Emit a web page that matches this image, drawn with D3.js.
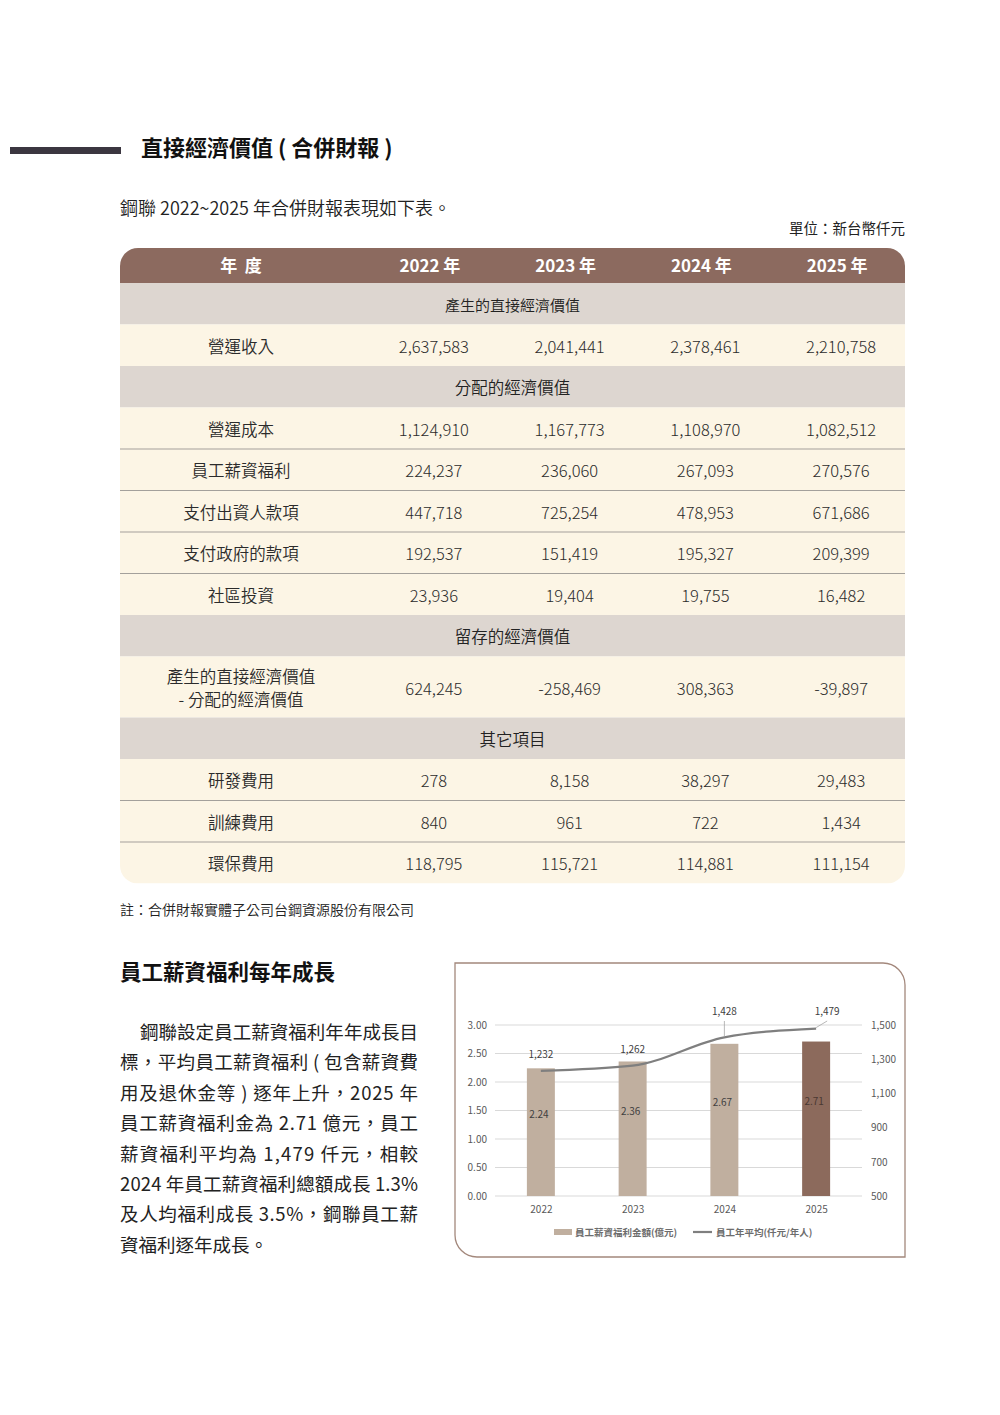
<!DOCTYPE html>
<html lang="zh-Hant">
<head>
<meta charset="utf-8">
<script src="https://cdn.jsdelivr.net/npm/d3@7"></script>
<style>
  html, body { margin: 0; padding: 0; background: #fff; }
  svg { display: block; }
  text { font-family: "Noto Sans CJK TC", "Noto Sans", sans-serif; }
</style>
</head>
<body>
<svg id="page" width="1000" height="1415"></svg>
<script>
// ---- table values (NT$ thousand) ----
const years = ["2022", "2023", "2024", "2025"];
const opRevenue = [2637583, 2041441, 2378461, 2210758];
const opCost = [1124910, 1167773, 1108970, 1082512];
const payroll = [224237, 236060, 267093, 270576];
const toInvestors = [447718, 725254, 478953, 671686];
const toGovernment = [192537, 151419, 195327, 209399];
const community = [23936, 19404, 19755, 16482];
const retained = [624245, -258469, 308363, -39897];
const rnd = [278, 8158, 38297, 29483];
const training = [840, 961, 722, 1434];
const envCost = [118795, 115721, 114881, 111154];

// ---- chart values ----
const payTotal = [2.24, 2.36, 2.67, 2.71]; // 億元
const payAvg = [1232, 1262, 1428, 1479]; // 仟元/年人
const leftTicks = [0, 0.5, 1, 1.5, 2, 2.5, 3];
const rightTicks = [500, 700, 900, 1100, 1300, 1500];

const paragraph = [
  "鋼聯設定員工薪資福利年年成長目",
  "標，平均員工薪資福利 ( 包含薪資費",
  "用及退休金等 ) 逐年上升，2025 年",
  "員工薪資福利金為 2.71 億元，員工",
  "薪資福利平均為 1,479 仟元，相較",
  "2024 年員工薪資福利總額成長 1.3%",
  "及人均福利成長 3.5%，鋼聯員工薪",
  "資福利逐年成長。",
];

const rows = [
  { kind: "section", label: ["產生的直接經濟價值"], small: true },
  { kind: "data", label: ["營運收入"], values: opRevenue },
  { kind: "section", label: ["分配的經濟價值"] },
  { kind: "data", label: ["營運成本"], values: opCost },
  { kind: "data", label: ["員工薪資福利"], values: payroll },
  { kind: "data", label: ["支付出資人款項"], values: toInvestors },
  { kind: "data", label: ["支付政府的款項"], values: toGovernment },
  { kind: "data", label: ["社區投資"], values: community },
  { kind: "section", label: ["留存的經濟價值"] },
  { kind: "data", label: ["產生的直接經濟價值", "- 分配的經濟價值"], values: retained },
  { kind: "section", label: ["其它項目"] },
  { kind: "data", label: ["研發費用"], values: rnd },
  { kind: "data", label: ["訓練費用"], values: training },
  { kind: "data", label: ["環保費用"], values: envCost },
];

const fmt = d3.formatLocale({ decimal: ".", thousands: ",", grouping: [3], currency: ["", ""], minus: "-" }).format(",");

const svg = d3.select("#page");

// ---- heading ----
svg.append("rect").attr("x", 10).attr("y", 147).attr("width", 111).attr("height", 7).attr("fill", "#3b3640");
svg.append("text").attr("x", 141).attr("y", 156).attr("font-size", 22).attr("font-weight", 700)
  .attr("fill", "#111").text("直接經濟價值 ( 合併財報 )");
svg.append("text").attr("x", 120).attr("y", 215).attr("font-size", 18).attr("fill", "#222")
  .attr("font-weight", 350).text("鋼聯 2022~2025 年合併財報表現如下表。");
svg.append("text").attr("x", 905).attr("y", 234).attr("font-size", 14.5).attr("fill", "#222")
  .attr("text-anchor", "end").text("單位：新台幣仟元");

// ---- table ----
const tLeft = 120, tRight = 905, tTop = 248, headH = 35, labelColRight = 362;
const colX = d3.scaleBand().domain(years).range([labelColRight, tRight]);
const labelX = (tLeft + labelColRight) / 2;

let cursor = tTop + headH;
rows.forEach((r) => {
  r.y = cursor;
  r.h = r.label.length > 1 ? 61 : 41.5;
  cursor += r.h;
});
const tBottom = cursor;

svg.append("clipPath").attr("id", "tableClip")
  .append("rect").attr("x", tLeft).attr("y", tTop)
  .attr("width", tRight - tLeft).attr("height", tBottom - tTop).attr("rx", 18);

const table = svg.append("g").attr("clip-path", "url(#tableClip)");

table.append("rect").attr("x", tLeft).attr("y", tTop).attr("width", tRight - tLeft)
  .attr("height", headH).attr("fill", "#8c6a5f");

const head = table.append("g").attr("font-size", 17).attr("font-weight", 700).attr("fill", "#fff")
  .attr("text-anchor", "middle");
head.append("text").attr("x", labelX).attr("y", tTop + headH / 2 + 6).text("年  度")
  .attr("xml:space", "preserve");
head.selectAll("text.yr").data(years).enter().append("text").attr("class", "yr")
  .attr("x", (d) => colX(d) + colX.bandwidth() / 2)
  .attr("y", tTop + headH / 2 + 6)
  .text((d) => d + " 年");

const rowG = table.selectAll("g.row").data(rows).enter().append("g").attr("class", "row");

rowG.append("rect").attr("x", tLeft).attr("y", (d) => d.y).attr("width", tRight - tLeft)
  .attr("height", (d) => d.h).attr("fill", (d) => (d.kind === "section" ? "#ddd6d0" : "#fcf5e5"));

// section titles centered across the table
rowG.filter((d) => d.kind === "section").append("text")
  .attr("x", (tLeft + tRight) / 2).attr("y", (d) => d.y + d.h / 2 + 7.5)
  .attr("text-anchor", "middle").attr("font-size", (d) => (d.small ? 15 : 16.5)).attr("fill", "#222")
  .attr("font-weight", 350)
  .text((d) => d.label[0]);

const dataRows = rowG.filter((d) => d.kind === "data");

dataRows.each(function (d) {
  const g = d3.select(this);
  const n = d.label.length;
  g.selectAll("text.lbl").data(d.label).enter().append("text").attr("class", "lbl")
    .attr("x", labelX)
    .attr("y", (t, i) => d.y + d.h / 2 + 7.5 + (i - (n - 1) / 2) * 23)
    .attr("text-anchor", "middle").attr("font-size", 16.5).attr("fill", "#2b2b2b")
    .attr("font-weight", 350)
    .text((t) => t);
  g.selectAll("text.val").data(d.values).enter().append("text").attr("class", "val")
    .attr("x", (v, i) => colX(years[i]) + colX.bandwidth() / 2 + 4)
    .attr("y", d.y + d.h / 2 + 7.5)
    .attr("text-anchor", "middle").attr("font-size", 16.5).attr("fill", "#2b2b2b")
    .attr("font-weight", 300)
    .text((v) => fmt(v));
});

// separators between consecutive data rows
rows.forEach((r, i) => {
  const next = rows[i + 1];
  if (r.kind === "data" && next && next.kind === "data") {
    table.append("line").attr("x1", tLeft).attr("x2", tRight)
      .attr("y1", r.y + r.h).attr("y2", r.y + r.h)
      .attr("stroke", "#a3a09b").attr("stroke-width", 1.2);
  }
});

svg.append("text").attr("x", 120).attr("y", 915).attr("font-size", 14).attr("fill", "#222")
  .attr("font-weight", 350)
  .text("註：合併財報實體子公司台鋼資源股份有限公司");

// ---- second section text ----
svg.append("text").attr("x", 120).attr("y", 980).attr("font-size", 21.5).attr("font-weight", 700)
  .attr("fill", "#111").text("員工薪資福利每年成長");

svg.append("g").selectAll("text").data(paragraph).enter().append("text")
  .attr("x", (d, i) => (i === 0 ? 140 : 120))
  .attr("y", (d, i) => 1039 + i * 30.4)
  .attr("font-size", 18.5).attr("fill", "#222")
  .attr("textLength", (d, i) => (i === paragraph.length - 1 ? null : i === 0 ? 278 : 298))
  .attr("lengthAdjust", "spacing")
  .text((d) => d);

// ---- chart ----
const box = { l: 455, t: 963, r: 905, b: 1257, rad: 22 };
svg.append("path")
  .attr("d", `M${box.l},${box.t} H${box.r - box.rad} A${box.rad},${box.rad} 0 0 1 ${box.r},${box.t + box.rad}
    V${box.b} H${box.l + box.rad} A${box.rad},${box.rad} 0 0 1 ${box.l},${box.b - box.rad} Z`)
  .attr("fill", "#fff").attr("stroke", "#a3887c").attr("stroke-width", 1.3);

const plot = { l: 495, r: 862, t: 1025, b: 1196 };
const x = d3.scalePoint().domain(years).range([plot.l, plot.r]).padding(0.5);
const step = x.step();
const barW = step * 0.305;
const yL = d3.scaleLinear().domain([0, 3]).range([plot.b, plot.t]);
const yR = d3.scaleLinear().domain([500, 1500]).range([plot.b, plot.t]);

const chart = svg.append("g").attr("font-family", '"Liberation Sans Narrow", "Liberation Sans", sans-serif');

chart.selectAll("line.grid").data(leftTicks).enter().append("line").attr("class", "grid")
  .attr("x1", plot.l).attr("x2", plot.r)
  .attr("y1", (d) => yL(d)).attr("y2", (d) => yL(d))
  .attr("stroke", "#d9d9d9").attr("stroke-width", 1);

const axisStyle = (g) => {
  g.select(".domain").remove();
  g.selectAll(".tick line").remove();
  g.selectAll("text").attr("fill", "#595959").attr("font-size", 10)
    .attr("font-family", '"Liberation Sans Narrow", "Liberation Sans", sans-serif');
};

chart.append("g").attr("transform", "translate(487,0)")
  .call(d3.axisLeft(yL).tickValues(leftTicks).tickFormat(d3.format(".2f")).tickSize(0).tickPadding(0))
  .call(axisStyle);
chart.append("g").attr("transform", "translate(871,0)")
  .call(d3.axisRight(yR).tickValues(rightTicks).tickFormat(d3.format(",")).tickSize(0).tickPadding(0))
  .call(axisStyle);
chart.append("g").attr("transform", `translate(0,${plot.b})`)
  .call(d3.axisBottom(x).tickSize(0).tickPadding(10))
  .call(axisStyle);

const barColor = (i) => (i === years.length - 1 ? "#8c6a5c" : "#c0af9f");

chart.selectAll("rect.bar").data(payTotal).enter().append("rect").attr("class", "bar")
  .attr("x", (d, i) => x(years[i]) - barW / 2)
  .attr("y", (d) => yL(d))
  .attr("width", barW)
  .attr("height", (d) => yL(0) - yL(d))
  .attr("fill", (d, i) => barColor(i));

chart.selectAll("text.barlbl").data(payTotal).enter().append("text").attr("class", "barlbl")
  .attr("x", (d, i) => x(years[i]) - 2)
  .attr("y", (d) => (yL(d) + yL(0)) / 2 - 14)
  .attr("text-anchor", "middle").attr("font-size", 10)
  .attr("fill", (d, i) => (i === years.length - 1 ? "#4a3832" : "#404040"))
  .text((d) => d.toFixed(2));

const line = d3.line()
  .x((d, i) => x(years[i]))
  .y((d) => yR(d))
  .curve(d3.curveMonotoneX);

chart.append("path").datum(payAvg).attr("d", line)
  .attr("fill", "none").attr("stroke", "#7f7f7f").attr("stroke-width", 2.2);

// line labels: last two sit above the plot with leader lines
payAvg.forEach((v, i) => {
  const px = x(years[i]);
  const py = yR(v);
  const lifted = v > 1400;
  const lx = px + (i === years.length - 1 ? 11 : 0);
  const ly = lifted ? plot.t - 10 : py - 13;
  if (lifted) {
    chart.append("line").attr("x1", px).attr("y1", py - 1)
      .attr("x2", lx).attr("y2", ly + 6)
      .attr("stroke", "#a6a6a6").attr("stroke-width", 0.8);
  }
  chart.append("text").attr("x", lx).attr("y", ly).attr("text-anchor", "middle")
    .attr("font-size", 10).attr("fill", "#404040").text(fmt(v));
});

// legend
const legend = svg.append("g").attr("font-size", 9.5).attr("font-weight", 700).attr("fill", "#6d6d6d");
legend.append("rect").attr("x", 554).attr("y", 1229).attr("width", 18).attr("height", 6).attr("fill", "#c0af9f");
legend.append("text").attr("x", 575).attr("y", 1235.5).text("員工薪資福利金額(億元)");
legend.append("line").attr("x1", 693).attr("x2", 712).attr("y1", 1232).attr("y2", 1232)
  .attr("stroke", "#7f7f7f").attr("stroke-width", 2.2);
legend.append("text").attr("x", 716).attr("y", 1235.5).text("員工年平均(仟元/年人)");
</script>
</body>
</html>
